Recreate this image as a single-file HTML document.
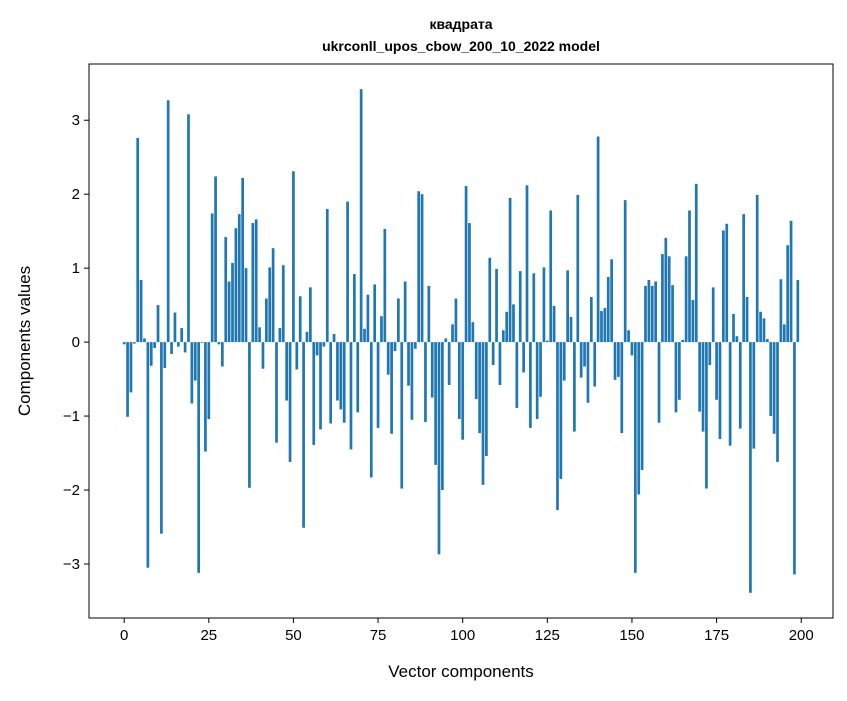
<!DOCTYPE html>
<html><head><meta charset="utf-8"><style>
body{margin:0;background:#fff;}
svg text{font-family:"Liberation Sans","DejaVu Sans",sans-serif;fill:#000;}
</style></head><body>
<svg id="chart" width="847" height="696" xmlns="http://www.w3.org/2000/svg">
<rect width="847" height="696" fill="#fff"/>
<text x="461" y="29" font-size="14" font-weight="bold" text-anchor="middle">квадрата</text>
<text x="461" y="51" font-size="14" font-weight="bold" text-anchor="middle">ukrconll_upos_cbow_200_10_2022 model</text>
<g id="bars"></g>
<g id="axes"></g>
<rect x="89" y="64" width="744" height="554" fill="none" stroke="#000" stroke-width="1"/>
<text x="461" y="677" font-size="17" text-anchor="middle">Vector components</text>
<text transform="translate(30,341) rotate(-90)" font-size="17" text-anchor="middle">Components values</text>
</svg>
<script>
const values = [-0.03,-1.01,-0.68,-0.02,2.76,0.84,0.05,-3.05,-0.32,-0.08,
0.5,-2.59,-0.35,3.27,-0.16,0.4,-0.06,0.19,-0.14,3.08,
-0.83,-0.52,-3.12,-0.01,-1.48,-1.04,1.74,2.24,-0.03,-0.33,
1.42,0.82,1.07,1.54,1.73,2.22,1.0,-1.97,1.61,1.66,
0.2,-0.36,0.59,1.01,1.27,-1.36,0.19,1.04,-0.79,-1.62,
2.31,-0.37,0.62,-2.51,0.14,0.74,-1.39,-0.18,-1.18,-0.06,
1.8,-1.1,0.11,-0.79,-0.91,-1.09,1.9,-1.45,0.92,-0.95,
3.42,0.18,0.64,-1.83,0.78,-1.16,0.35,1.53,-0.44,-1.24,
-0.12,0.59,-1.98,0.82,-0.59,-1.05,-0.09,2.04,2.0,-1.08,
0.76,-0.75,-1.66,-2.87,-2.0,0.05,-0.58,0.24,0.59,-1.04,
-1.32,2.11,1.61,0.27,-0.77,-1.23,-1.93,-1.54,1.14,-0.31,
0.99,-0.58,0.16,0.41,1.95,0.51,-0.89,0.96,-0.41,2.12,
-1.16,0.93,-1.04,-0.74,1.01,0.02,1.78,0.49,-2.27,-1.85,
-0.52,0.97,0.34,-1.21,1.99,-0.48,-0.33,-0.82,0.61,-0.6,
2.78,0.42,0.46,0.88,1.12,-0.51,-0.47,-1.23,1.92,0.16,
-0.18,-3.12,-2.06,-1.73,0.76,0.84,0.76,0.82,-1.09,1.19,
1.41,1.16,0.77,-0.95,-0.78,0.03,1.16,1.78,0.57,2.14,
-0.94,-1.21,-1.98,-0.31,0.74,-0.78,-1.31,1.51,1.6,-1.4,
0.38,0.08,-1.17,1.73,0.61,-3.39,-1.44,1.99,0.41,0.32,
0.04,-1.0,-1.24,-1.62,0.85,0.24,1.31,1.64,-3.14,0.84];
const xTicks = [0,25,50,75,100,125,150,175,200];
const yTicks = [-3,-2,-1,0,1,2,3];

const L=89,R=833,T=64,B=618;
const n=values.length;
const xLo=-0.4, xHi=n-1+0.4, xPad=(xHi-xLo)*0.05;
const vMin=Math.min(0,...values), vMax=Math.max(0,...values), yPad=(vMax-vMin)*0.05;
const x0=xLo-xPad, x1=xHi+xPad, y0=vMin-yPad, y1=vMax+yPad;
const xs=v=>L+(v-x0)/(x1-x0)*(R-L);
const ys=v=>B-(v-y0)/(y1-y0)*(B-T);
const NS="http://www.w3.org/2000/svg";
const bars=document.getElementById('bars');
values.forEach((v,i)=>{
  const r=document.createElementNS(NS,'rect');
  
  
  const a=xs(i-0.4), b=xs(i+0.4);
  const yt=ys(Math.max(v,0)), yb=ys(Math.min(v,0));
  r.setAttribute('x',a);r.setAttribute('width',b-a);
  r.setAttribute('y',yt);r.setAttribute('height',Math.max(yb-yt,0.5));
  r.setAttribute('fill','#1f77b4');
  bars.appendChild(r);
});
const axes=document.getElementById('axes');
xTicks.forEach(t=>{
  const l=document.createElementNS(NS,'line');
  
  
  l.setAttribute('x1',xs(t));l.setAttribute('x2',xs(t));l.setAttribute('y1',B);l.setAttribute('y2',B+5);
  l.setAttribute('stroke','#000');
  axes.appendChild(l);
  const tx=document.createElementNS(NS,'text');
  
  
  tx.setAttribute('x',xs(t));tx.setAttribute('y',B+22);
  tx.setAttribute('font-size','15');tx.setAttribute('text-anchor','middle');
  tx.textContent=t;
  axes.appendChild(tx);
});
yTicks.forEach(t=>{
  const l=document.createElementNS(NS,'line');
  
  
  l.setAttribute('x1',L-5);l.setAttribute('x2',L);l.setAttribute('y1',ys(t));l.setAttribute('y2',ys(t));
  l.setAttribute('stroke','#000');
  axes.appendChild(l);
  const tx=document.createElementNS(NS,'text');
  
  
  tx.setAttribute('x',L-9);tx.setAttribute('y',ys(t)+5);
  tx.setAttribute('font-size','15');tx.setAttribute('text-anchor','end');
  tx.textContent=t<0?'\u2212'+Math.abs(t):String(t);
  axes.appendChild(tx);
});
</script>
</body></html>
